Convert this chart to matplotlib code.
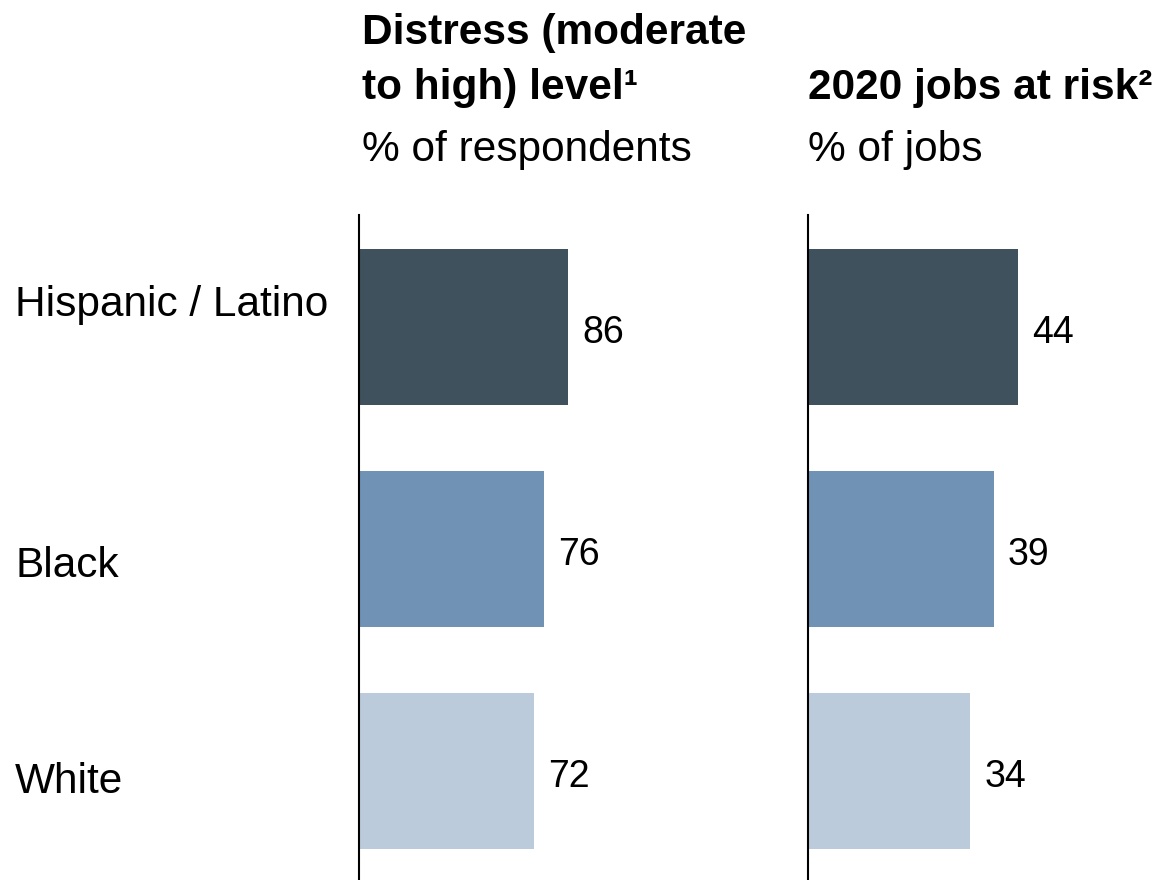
import matplotlib.pyplot as plt

plt.rcParams['font.family'] = ['Liberation Sans', 'DejaVu Sans']

groups = ['Hispanic / Latino', 'Black', 'White']
distress = [86, 76, 72]
jobs_at_risk = [44, 39, 34]
colors = ['#3f515c', '#6f92b5', '#bccbdb']

fig = plt.figure(figsize=(11.61, 8.8), dpi=100)

ax1 = fig.add_axes([0.3092, 0.0, 0.30, 0.7557])
ax2 = fig.add_axes([0.6960, 0.0, 0.304, 0.7557])

pos = list(range(len(groups)))


def draw_panel(ax, values, xmax):
    ax.barh(pos, values, height=0.7, color=colors)
    ax.set_xlim(0, xmax)
    ax.set_ylim(2.49, -0.505)
    for s in ['top', 'right', 'bottom']:
        ax.spines[s].set_visible(False)
    ax.spines['left'].set_linewidth(1.5)
    ax.spines['left'].set_color('#000000')
    ax.set_xticks([])
    ax.set_yticks([])
    for p, v in zip(pos, values):
        ax.annotate(str(v), (v, p), xytext=(10, -4.5), textcoords='offset points',
                    ha='left', va='center', fontsize=27)


draw_panel(ax1, distress, 143)
draw_panel(ax2, jobs_at_risk, 74)

# category labels (left of first panel)
label_offsets = [-0.10, 0.078, 0.048]
for p, g, off in zip(pos, groups, label_offsets):
    ax1.text(-0.987, p + off, g, transform=ax1.get_yaxis_transform(),
             ha='left', va='center', fontsize=30.5)

fig.text(0.3118, 0.9313, 'Distress (moderate\nto high) level\u00b9', ha='left', va='center',
         fontsize=30.5, fontweight='bold', linespacing=1.47)
fig.text(0.6960, 0.9003, '2020 jobs at risk\u00b2', ha='left', va='center',
         fontsize=30.5, fontweight='bold')
fig.text(0.3118, 0.829, '% of respondents', ha='left', va='center', fontsize=30.5)
fig.text(0.6960, 0.829, '% of jobs', ha='left', va='center', fontsize=30.5)

fig.savefig('out.png', dpi=100)
